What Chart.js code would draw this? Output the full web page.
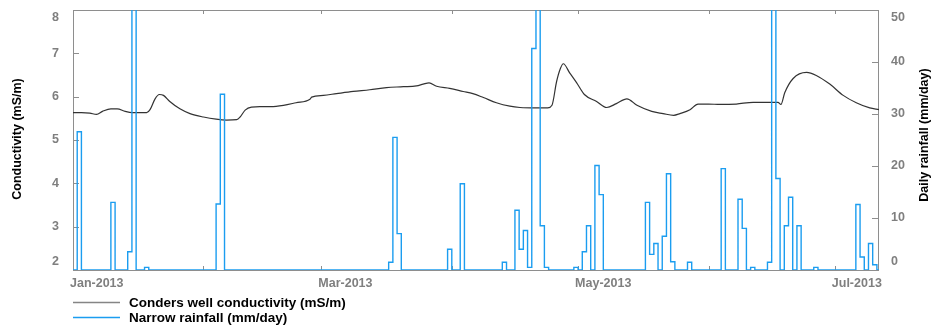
<!DOCTYPE html>
<html>
<head>
<meta charset="utf-8">
<script src="https://cdn.jsdelivr.net/npm/chart.js@4/dist/chart.umd.min.js"></script>
<style>
  html, body { margin: 0; padding: 0; background: #fff; }
  canvas { display: block; }
</style>
</head>
<body>
<canvas id="chart" width="938" height="325"></canvas>
<script>
// days counted from 1 Jan 2013
var condDays = [0, 2, 4, 5.6, 7, 9, 10.5, 12.4, 14, 17.5, 18.3, 19.5, 20.5, 21.5, 23, 25.4, 27.8, 31, 34, 36.5,
  38.9, 39.7, 40.9, 42.4, 44.4, 47, 50, 53, 56.3, 56.7, 59.5, 62.6, 66.6, 70.5, 74.5, 78.5, 81.6, 83.2, 84.6, 86.4,
  89.5, 92.7, 95, 97.5, 100.6, 103.8, 106.2, 110, 112.8, 113.8, 114.9, 115.8, 116.5, 118, 119.6, 121.5, 124.4, 126.8, 129.1, 131.6,
  134, 137.5, 140.2, 142.7, 144.2, 146.6, 148.5, 151, 153.7, 157.6, 161.6, 165.6, 167.5, 168.2, 169.1, 171.1, 174.3, 176.6, 179.8, 183,
  186.1, 189.3, 191.5];
var condValues = [5.63, 5.63, 5.62, 5.59, 5.66, 5.72, 5.72, 5.66, 5.63, 5.63, 5.70, 5.95, 6.05, 6.03, 5.89, 5.72, 5.61, 5.53, 5.48, 5.46,
  5.47, 5.53, 5.69, 5.76, 5.77, 5.77, 5.80, 5.86, 5.94, 5.99, 6.03, 6.07, 6.12, 6.16, 6.21, 6.23, 6.25, 6.29, 6.32, 6.24,
  6.19, 6.12, 6.07, 5.98, 5.86, 5.78, 5.75, 5.74, 5.74, 5.80, 6.35, 6.65, 6.76, 6.55, 6.33, 6.05, 5.89, 5.75, 5.84, 5.95,
  5.80, 5.66, 5.61, 5.57, 5.61, 5.70, 5.83, 5.83, 5.82, 5.83, 5.87, 5.87, 5.87, 5.82, 6.09, 6.42, 6.56, 6.49, 6.29, 6.03,
  5.86, 5.74, 5.70];

// rain days (all other days are 0 mm)
var rainDays = [1, 9, 13, 14, 17, 34, 35, 75, 76, 77, 89, 92, 102, 105, 106, 107, 108, 109, 110, 111, 112,
  119, 121, 122, 124, 125, 136, 137, 138, 140, 141, 142, 146, 154, 158, 159, 161, 165, 166, 167, 169, 170, 172,
  176, 186, 187, 189, 190];
var rainValues = [26.6, 13.0, 3.5, 62, 0.5, 12.7, 33.8, 1.5, 25.5, 7.0, 4.0, 16.6, 1.5, 11.5, 4.0, 7.6, 0.5, 42.6, 58, 8.5, 0.5,
  0.5, 3.5, 8.5, 20.1, 14.5, 13.0, 3.0, 5.1, 6.5, 18.5, 1.6, 1.5, 19.5, 13.6, 8.0, 0.5, 1.5, 60, 17.6, 8.5, 14.0, 8.5,
  0.5, 12.6, 2.5, 5.1, 1.0];
var lastDay = 192;

var monthDays = [0, 31, 59, 90, 120, 151, 181];
var monthLabels = ['Jan-2013', '', 'Mar-2013', '', 'May-2013', '', 'Jul-2013'];
var condTicks = [2, 3, 4, 5, 6, 7, 8];
var rainTicks = [0, 10, 20, 30, 40, 50];

var condPoints = condDays.map(function (d, i) { return { x: d, y: condValues[i] }; });
var rainPoints = [];
for (var d = 0; d <= lastDay; d++) {
  var k = rainDays.indexOf(d);
  rainPoints.push({ x: d, y: k >= 0 ? rainValues[k] : 0 });
}

var FONT = '"Liberation Sans", Arial, sans-serif';
var GRAY = '#7f7f7f';
var FRAME = '#8e8e8e';
var BLUE = '#1b9df0';

// frame, inward ticks, labels, titles and legend
var decor = {
  id: 'decor',
  beforeDatasetsDraw: function (chart) {
    var ctx = chart.ctx, a = chart.chartArea;
    var sx = chart.scales.x, yl = chart.scales.yL, yr = chart.scales.yR;
    ctx.save();
    ctx.strokeStyle = FRAME;
    ctx.lineWidth = 1;
    ctx.strokeRect(Math.round(a.left) + 0.5, Math.round(a.top) + 0.5, Math.round(a.right - a.left) - 1, Math.round(a.bottom - a.top));
    ctx.beginPath();
    condTicks.forEach(function (v) {
      var y = Math.round(yl.getPixelForValue(v)) + 0.5;
      ctx.moveTo(a.left, y); ctx.lineTo(a.left + 6, y);
    });
    rainTicks.forEach(function (v) {
      var y = Math.round(yr.getPixelForValue(v)) + 0.5;
      ctx.moveTo(a.right, y); ctx.lineTo(a.right - 7, y);
    });
    monthDays.forEach(function (m) {
      var x = Math.round(sx.getPixelForValue(m)) + 0.5;
      ctx.moveTo(x, a.bottom); ctx.lineTo(x, a.bottom - 4);
      ctx.moveTo(x, a.top); ctx.lineTo(x, a.top + 4);
    });
    ctx.stroke();
    ctx.restore();
  },
  afterDraw: function (chart) {
    var ctx = chart.ctx, a = chart.chartArea;
    var sx = chart.scales.x, yl = chart.scales.yL, yr = chart.scales.yR;
    ctx.save();
    ctx.fillStyle = GRAY;
    ctx.font = 'bold 12.5px ' + FONT;
    ctx.textBaseline = 'middle';
    function clampY(y) { return Math.min(Math.max(y, a.top + 7.5), a.bottom - 8); }
    ctx.textAlign = 'right';
    condTicks.forEach(function (v) {
      ctx.fillText(String(v), a.left - 14, clampY(yl.getPixelForValue(v)));
    });
    ctx.textAlign = 'left';
    rainTicks.forEach(function (v) {
      ctx.fillText(String(v), a.right + 12, clampY(yr.getPixelForValue(v)));
    });
    monthDays.forEach(function (m, i) {
      if (monthLabels[i]) ctx.fillText(monthLabels[i], sx.getPixelForValue(m) - 3, a.bottom + 13.5);
    });

    // axis titles
    ctx.fillStyle = '#000';
    ctx.font = 'bold 12.5px ' + FONT;
    ctx.textAlign = 'center';
    ctx.save();
    ctx.translate(18, 139);
    ctx.rotate(-Math.PI / 2);
    ctx.fillText('Conductivity (mS/m)', 0, 0);
    ctx.restore();
    ctx.save();
    ctx.translate(925, 135);
    ctx.rotate(-Math.PI / 2);
    ctx.fillText('Daily rainfall (mm/day)', 0, 0);
    ctx.restore();

    // legend
    var items = [
      { text: 'Conders well conductivity (mS/m)', color: '#858585', y: 302 },
      { text: 'Narrow rainfall (mm/day)', color: BLUE, y: 317 }
    ];
    ctx.font = 'bold 13.5px ' + FONT;
    ctx.textAlign = 'left';
    items.forEach(function (it) {
      ctx.beginPath();
      ctx.strokeStyle = it.color;
      ctx.lineWidth = 1.5;
      ctx.moveTo(73, it.y + 0.5); ctx.lineTo(120, it.y + 0.5);
      ctx.stroke();
      ctx.fillStyle = '#000';
      ctx.fillText(it.text, 129, it.y + 1);
    });
    ctx.restore();
  }
};

new Chart(document.getElementById('chart'), {
  type: 'line',
  data: {
    datasets: [
      {
        label: 'Narrow rainfall (mm/day)',
        data: rainPoints,
        yAxisID: 'yR',
        stepped: 'before',
        borderColor: BLUE,
        borderWidth: 1.4,
        pointRadius: 0,
        fill: false,
        order: 0
      },
      {
        label: 'Conders well conductivity (mS/m)',
        data: condPoints,
        yAxisID: 'yL',
        borderColor: '#333',
        borderWidth: 1.2,
        pointRadius: 0,
        cubicInterpolationMode: 'monotone',
        fill: false,
        order: 1
      }
    ]
  },
  options: {
    responsive: false,
    animation: false,
    layout: { padding: { top: 10, left: 0, right: 0, bottom: 0 } },
    plugins: { legend: { display: false }, tooltip: { enabled: false } },
    scales: {
      x: {
        type: 'linear', min: 0, max: 191.5,
        ticks: { display: false }, grid: { display: false }, border: { display: false },
        afterFit: function (s) { s.height = 55; }
      },
      yL: {
        position: 'left', min: 2, max: 8,
        ticks: { display: false }, grid: { display: false }, border: { display: false },
        afterFit: function (s) { s.width = 73; }
      },
      yR: {
        position: 'right', min: 0, max: 50,
        ticks: { display: false }, grid: { display: false }, border: { display: false },
        afterFit: function (s) { s.width = 59; }
      }
    }
  },
  plugins: [decor]
});
</script>
</body>
</html>
